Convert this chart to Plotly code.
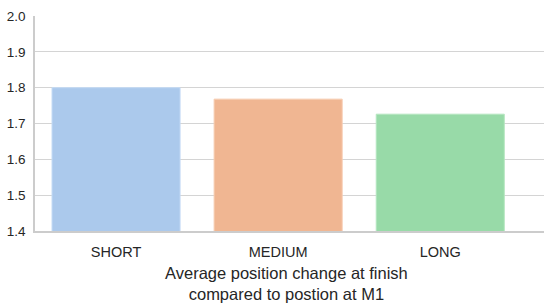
import plotly.graph_objects as go

categories = ["SHORT", "MEDIUM", "LONG"]
values = [1.800, 1.768, 1.726]
colors = ["#abc9ec", "#f0b692", "#98daa8"]
edge_colors = ["#c4dbf5", "#f6ccb1", "#b5e6c0"]
y_ticks = [1.4, 1.5, 1.6, 1.7, 1.8, 1.9, 2.0]

fig = go.Figure()
fig.add_trace(go.Bar(
    x=list(range(len(categories))), y=values, width=0.79,
    marker=dict(color=colors, line=dict(color=edge_colors, width=1)),
    showlegend=False,
))

base = dict(family="Liberation Sans, Arial", color="#262626")
fig.update_layout(
    width=544, height=306,
    margin=dict(l=35, r=0, t=16, b=75),
    paper_bgcolor="white", plot_bgcolor="white",
    font=dict(size=13, **base),
    xaxis=dict(
        range=[-0.5, 2.64], tickmode="array",
        tickvals=list(range(len(categories))), ticktext=categories,
        tickfont=dict(size=14.5, **base),
        showgrid=False, showline=True, linecolor="#cccccc", linewidth=1.5,
        ticks="outside", ticklen=7, tickcolor="rgba(0,0,0,0)", zeroline=False,
    ),
    yaxis=dict(
        range=[1.4, 2.0], tickvals=y_ticks, tickformat=".1f",
        tickfont=dict(size=13.5, **base),
        showgrid=True, gridcolor="#d4d4d4", gridwidth=1.2,
        showline=True, linecolor="#cccccc", linewidth=1.5,
        ticks="outside", ticklen=5, tickcolor="rgba(0,0,0,0)", zeroline=False,
    ),
    annotations=[dict(
        text="Average position change at finish<br>compared to postion at M1",
        xref="paper", yref="paper", x=0.494, y=-0.145, xanchor="center", yanchor="top",
        showarrow=False, font=dict(size=16.5, **base),
    )],
)
fig.write_html("out.html")
